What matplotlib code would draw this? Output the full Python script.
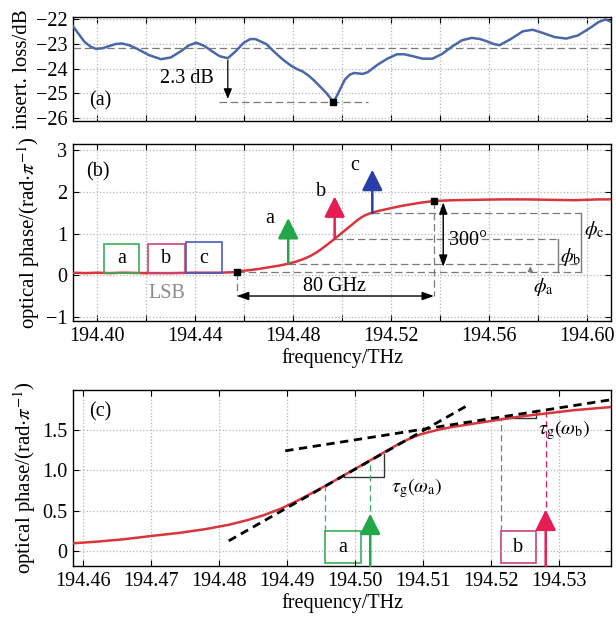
import matplotlib
matplotlib.use("Agg")
from matplotlib import pyplot as plt
from matplotlib.patches import Rectangle

plt.rcParams['font.family'] = ['Liberation Serif', 'DejaVu Serif']
plt.rcParams['mathtext.fontset'] = 'stix'

# insertion loss (a)
loss_f = [194.3898, 194.3920, 194.3946, 194.3970, 194.3994, 194.4022, 194.4050, 194.4075,
          194.4099, 194.4130, 194.4163, 194.4210, 194.4260, 194.4300, 194.4340, 194.4375,
          194.4405, 194.4437, 194.4469, 194.4500, 194.4533, 194.4565, 194.4598, 194.4625,
          194.4646, 194.4690, 194.4726, 194.4760, 194.4791, 194.4815, 194.4839, 194.4865,
          194.4887, 194.4912, 194.4936, 194.4952, 194.4965, 194.4980, 194.4992, 194.5012,
          194.5032, 194.5050, 194.5065, 194.5085, 194.5105, 194.5125, 194.5145, 194.5185,
          194.5225, 194.5255, 194.5290, 194.5330, 194.5370, 194.5410, 194.5451, 194.5490,
          194.5531, 194.5565, 194.5595, 194.5620, 194.5644, 194.5690, 194.5740, 194.5780,
          194.5821, 194.5870, 194.5917, 194.5965, 194.6014, 194.6050, 194.6078, 194.6102]
loss_db = [-22.25, -22.55, -22.9, -23.1, -23.2, -23.17, -23.08, -23.0,
           -22.98, -23.05, -23.2, -23.45, -23.62, -23.55, -23.3, -23.05,
           -22.95, -23.08, -23.3, -23.5, -23.58, -23.3, -22.95, -22.8,
           -22.8, -23.0, -23.35, -23.65, -23.88, -24.02, -24.12, -24.3,
           -24.5, -24.75, -25.0, -25.2, -25.35, -25.1, -24.85, -24.45,
           -24.25, -24.18, -24.2, -24.22, -24.15, -24.0, -23.85, -23.6,
           -23.42, -23.42, -23.5, -23.6, -23.6, -23.4, -23.1, -22.85,
           -22.75, -22.8, -22.9, -23.0, -23.05, -22.8, -22.48, -22.42,
           -22.55, -22.72, -22.78, -22.65, -22.35, -22.1, -22.0, -22.1]
loss_ref = -23.15
loss_min = (194.4965, -25.35)

# optical phase (b), (c)
ph_f = [194.390, 194.395, 194.400, 194.405, 194.410, 194.420, 194.430, 194.440,
        194.450, 194.455, 194.4585, 194.462, 194.466, 194.470, 194.4743, 194.478,
        194.4815, 194.4841, 194.4865, 194.489, 194.4915, 194.494, 194.4965, 194.499,
        194.5015, 194.504, 194.5065, 194.508, 194.5095, 194.511, 194.5125, 194.514,
        194.5155, 194.517, 194.5205, 194.524, 194.528, 194.532, 194.5376, 194.545,
        194.555, 194.565, 194.575, 194.585, 194.595, 194.605, 194.610]
ph = [0.06, 0.05, 0.06, 0.05, 0.06, 0.05, 0.05, 0.06,
      0.06, 0.07, 0.10, 0.12, 0.15, 0.19, 0.23, 0.275,
      0.33, 0.385, 0.445, 0.525, 0.625, 0.735, 0.85, 0.97,
      1.09, 1.21, 1.33, 1.39, 1.44, 1.475, 1.505, 1.53,
      1.55, 1.57, 1.615, 1.66, 1.70, 1.74, 1.78, 1.80,
      1.81, 1.82, 1.82, 1.81, 1.80, 1.82, 1.82]
markers_b = ([194.457, 194.5376], [0.07, 1.78])

# sidebands
sb_names = ['a', 'b', 'c']
sb_f = [194.478, 194.497, 194.5124]
sb_phase = [0.28, 0.87, 1.49]
sb_tip = [1.44, 1.96, 2.6]
sb_color = ['#23a64a', '#e81c55', '#2a3ea8']
box_color = ['#3aae5a', '#c8447a', '#4d5cb8']
box_lo = [194.4026, 194.4208, 194.4361]
box_hi = [194.4170, 194.4356, 194.4509]
box_top = [0.76, 0.75, 0.80]

# tangent lines (c)
tan1 = ([194.4814, 194.5163], [0.13, 1.79])
tan2 = ([194.4897, 194.5376], [1.24, 1.87])

ticks_ab = [194.40, 194.42, 194.44, 194.46, 194.48, 194.50, 194.52, 194.54, 194.56, 194.58, 194.60]
labels_b = ['194.40', '', '194.44', '', '194.48', '', '194.52', '', '194.56', '', '194.60']
ticks_c = [194.46, 194.47, 194.48, 194.49, 194.50, 194.51, 194.52, 194.53]
labels_c = ['194.46', '194.47', '194.48', '194.49', '194.50', '194.51', '194.52', '194.53']

red = '#d8353c'
grey = '#7a7a7a'
fs = 14.5

fig = plt.figure(figsize=(6.16, 6.2), dpi=100)
W, H = 616, 620
axa = fig.add_axes([73 / W, 1 - 121 / H, 538 / W, 104 / H])
axb = fig.add_axes([73 / W, 1 - 321 / H, 538 / W, 177 / H])
axc = fig.add_axes([73 / W, 1 - 566 / H, 538 / W, 176 / H])

for ax in (axa, axb, axc):
    ax.tick_params(direction='in', top=True, right=True, length=4, labelsize=fs, pad=4)
    ax.grid(True, linestyle=':', color='#b5b5b5', linewidth=0.9)
    for s in ax.spines.values():
        s.set_linewidth(1.0)

# ---- (a)
axa.plot(loss_f, loss_db, color='#4a68a8', lw=1.8, zorder=3)
axa.axhline(loss_ref, color=grey, ls=(0, (6, 3)), lw=0.9)
axa.plot([194.4497, 194.5105], [loss_min[1]] * 2, color=grey, ls=(0, (6, 3)), lw=0.9)
axa.plot([loss_min[0]], [loss_min[1]], 's', color='black', ms=4.5, zorder=4)
axa.annotate('', xy=(194.4533, loss_min[1]), xytext=(194.4533, -23.55),
             arrowprops=dict(arrowstyle='-|>,head_width=0.25,head_length=0.6', color='black', lw=0.9))
axa.text(194.4475, -24.4, '2.3 dB', fontsize=fs, ha='right', va='center')
axa.text(194.401, -25.3, '(a)', fontsize=fs, ha='center', va='center')
axa.set_xlim(194.39, 194.61)
axa.set_ylim(-26.14, -21.9)
axa.set_yticks([-26, -25, -24, -23, -22])
axa.set_yticklabels(['\u221226', '\u221225', '\u221224', '\u221223', '\u221222'])
axa.set_xticks(ticks_ab)
axa.set_xticklabels([])
axa.set_ylabel('insert. loss/dB', fontsize=15, labelpad=3)

# ---- (b)
axb.plot(ph_f, ph, color=red, lw=1.8, zorder=3)
axb.plot(markers_b[0], markers_b[1], 's', color='black', ms=4.5, zorder=4)
for i in range(3):
    axb.add_patch(Rectangle((box_lo[i], 0.05), box_hi[i] - box_lo[i], box_top[i] - 0.05,
                            fill=False, edgecolor=box_color[i], lw=1.2, zorder=4))
    axb.text((box_lo[i] + box_hi[i]) / 2, 0.4, sb_names[i], fontsize=fs, ha='center', va='center')
    axb.annotate('', xy=(sb_f[i], sb_tip[i]), xytext=(sb_f[i], sb_phase[i]),
                 arrowprops=dict(arrowstyle='-|>,head_width=0.45,head_length=0.9',
                                 color=sb_color[i], lw=1.8, mutation_scale=14, shrinkA=0), zorder=5)
axb.text(194.4705, 1.36, 'a', fontsize=fs, ha='center', va='center')
axb.text(194.4914, 2.02, 'b', fontsize=fs, ha='center', va='center')
axb.text(194.5053, 2.64, 'c', fontsize=fs, ha='center', va='center')
axb.text(194.4285, -0.45, 'LSB', fontsize=fs, ha='center', va='center', color='#8a8a8a')
axb.text(194.40, 2.48, '(b)', fontsize=fs, ha='center', va='center')

dash = dict(color=grey, ls=(0, (6, 3)), lw=0.9)
axb.plot([194.457, 194.5977], [0.07, 0.07], **dash)
axb.plot([sb_f[0], 194.5977], [sb_phase[0]] * 2, **dash)
axb.plot([sb_f[1], 194.5885], [sb_phase[1]] * 2, **dash)
axb.plot([sb_f[2], 194.5977], [sb_phase[2]] * 2, **dash)
axb.plot([194.457, 194.457], [0.07, -0.5], **dash)
axb.plot([194.5376, 194.5376], [1.78, -0.5], **dash)
axb.plot([194.5977, 194.5977], [0.07, sb_phase[2]], color=grey, lw=1.0)
axb.plot([194.5885, 194.5885], [0.07, sb_phase[1]], color=grey, lw=1.0)
axb.annotate('', xy=(194.577, sb_phase[0]), xytext=(194.577, 0.07),
             arrowprops=dict(arrowstyle='-|>,head_width=0.15,head_length=0.3', color=grey, lw=0.8))
axb.annotate('', xy=(194.457, -0.5), xytext=(194.5376, -0.5),
             arrowprops=dict(arrowstyle='<|-|>,head_width=0.25,head_length=0.7', color='black', lw=1.0,
                             shrinkA=0, shrinkB=0))
axb.annotate('', xy=(194.5414, 1.75), xytext=(194.5414, 0.2),
             arrowprops=dict(arrowstyle='<|-|>,head_width=0.25,head_length=0.7', color='black', lw=1.0,
                             shrinkA=0, shrinkB=0))
axb.text(194.497, -0.27, '80 GHz', fontsize=fs, ha='center', va='center')
axb.text(194.5437, 0.84, '300°', fontsize=fs, ha='left', va='center')
axb.text(194.5988, 1.08, r'$\phi_\mathrm{c}$', fontsize=fs, ha='left', va='center')
axb.text(194.5891, 0.44, r'$\phi_\mathrm{b}$', fontsize=fs, ha='left', va='center')
axb.text(194.578, -0.28, r'$\phi_\mathrm{a}$', fontsize=fs, ha='left', va='center')
axb.set_xlim(194.39, 194.61)
axb.set_ylim(-1.1, 3.15)
axb.set_yticks([-1, 0, 1, 2, 3])
axb.set_yticklabels(['\u22121', '0', '1', '2', '3'])
axb.set_xticks(ticks_ab)
axb.set_xticklabels(labels_b)
axb.set_xlabel('frequency/THz', fontsize=fs, labelpad=2)
axb.set_ylabel(r'optical phase/(rad$\cdot\pi^{-1}$)', fontsize=15, labelpad=3)

# ---- (c)
axc.plot(ph_f, ph, color=red, lw=1.8, zorder=3)
axc.plot(tan1[0], tan1[1], color='black', ls=(0, (3, 2)), lw=2.0, zorder=4)
axc.plot(tan2[0], tan2[1], color='black', ls=(0, (3, 2)), lw=2.0, zorder=4)
axc.plot([194.4983, 194.5042, 194.5042], [0.92, 0.92, 1.2], color='#333333', lw=1.0)
axc.plot([194.5214, 194.5265, 194.5265], [1.64, 1.64, 1.74], color='#333333', lw=1.0)
axc.text(194.5052, 0.78, r'$\tau_\mathrm{g}(\omega_\mathrm{a})$', fontsize=fs, ha='left', va='center')
axc.text(194.5268, 1.50, r'$\tau_\mathrm{g}(\omega_\mathrm{b})$', fontsize=fs, ha='left', va='center')
cdash = dict(ls=(0, (5, 3)), lw=0.9)
axc.plot([194.4955, 194.4955], [0.25, 0.82], color=box_color[0], **cdash)
axc.plot([194.5022, 194.5022], [0.5, 1.12], color=box_color[0], **cdash)
axc.plot([194.5214, 194.5214], [0.25, 1.64], color=grey, **cdash)
axc.plot([194.528, 194.528], [0.55, 1.74], color=sb_color[1], **cdash)
axc.add_patch(Rectangle((194.4955, -0.14), 0.0054, 0.39, fill=False, edgecolor=box_color[0], lw=1.2))
axc.add_patch(Rectangle((194.5214, -0.14), 0.0052, 0.39, fill=False, edgecolor=box_color[1], lw=1.2))
axc.text(194.4982, 0.05, 'a', fontsize=fs, ha='center', va='center')
axc.text(194.524, 0.05, 'b', fontsize=fs, ha='center', va='center')
axc.annotate('', xy=(194.5022, 0.5), xytext=(194.5022, -0.18),
             arrowprops=dict(arrowstyle='-|>,head_width=0.45,head_length=0.9',
                             color=sb_color[0], lw=1.8, mutation_scale=14, shrinkA=0))
axc.annotate('', xy=(194.528, 0.55), xytext=(194.528, -0.18),
             arrowprops=dict(arrowstyle='-|>,head_width=0.45,head_length=0.9',
                             color=sb_color[1], lw=1.8, mutation_scale=14, shrinkA=0))
axc.text(194.4625, 1.72, '(c)', fontsize=fs, ha='center', va='center')
axc.set_xlim(194.4585, 194.5376)
axc.set_ylim(-0.18, 1.99)
axc.set_yticks([0, 0.5, 1.0, 1.5])
axc.set_yticklabels(['0', '0.5', '1.0', '1.5'])
axc.set_xticks(ticks_c)
axc.set_xticklabels(labels_c)
axc.set_xlabel('frequency/THz', fontsize=fs, labelpad=2)
axc.set_ylabel(r'optical phase/(rad$\cdot\pi^{-1}$)', fontsize=15, labelpad=3)

fig.savefig('out.png', dpi=100)
